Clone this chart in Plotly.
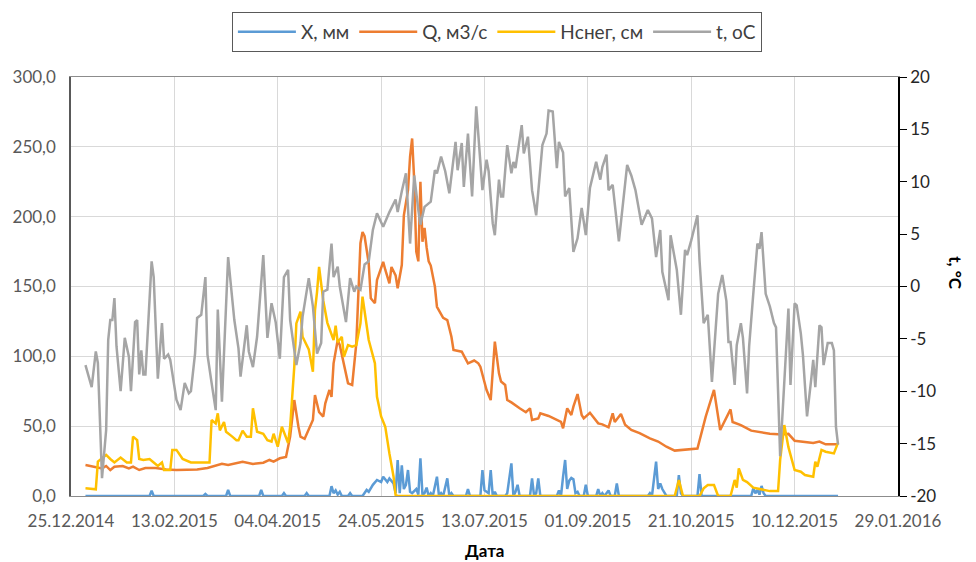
import pandas as pd
import plotly.graph_objects as go

# ---- data: day offsets from 01.01.2015 and values ----
t_days = [0, 3, 5, 6, 8, 10, 11, 12, 13, 14, 15, 17, 19, 21, 22, 24, 25, 26, 27, 28, 29, 32, 33, 35, 37, 38,
          40, 41, 44, 46, 48, 50, 51, 53, 54, 56, 58, 59, 61, 63, 64, 66, 69, 72, 74, 75, 78, 79, 81, 83, 86,
          88, 90, 92, 94, 96, 98, 99, 102, 104, 105, 108, 110, 112, 114, 115, 117, 119, 120, 122, 123, 126,
          128, 130, 131, 133, 135, 137, 139, 141, 144, 147, 150, 151, 153, 155, 157, 159, 161, 162, 164, 167,
          169, 170, 172, 174, 176, 179, 180, 182, 183, 185, 187, 189, 192, 194, 195, 197, 198, 200, 201, 202,
          204, 206, 207, 208, 211, 212, 214, 216, 218, 221, 223, 224, 226, 228, 229, 231, 232, 234, 236, 238,
          240, 242, 244, 247, 249, 250, 252, 253, 255, 258, 262, 264, 266, 269, 272, 274, 276, 278, 279, 282,
          283, 286, 288, 290, 291, 293, 296, 297, 299, 301, 303, 306, 308, 310, 311, 312, 314, 315, 317, 318,
          320, 321, 323, 325, 326, 327, 329, 331, 333, 334, 336, 338, 340, 341, 343, 344, 346, 347, 349, 351,
          352, 353, 355, 356, 357, 359, 361, 362, 363, 364]
t_vals = [-7.5, -9.6, -6.2, -7.3, -18.3, -13.7, -5.1, -3.2, -3.2, -1.1, -5.7, -10.0, -4.9, -6.7, -10.0, -3.4,
          -3.2, -8.4, -6.1, -8.4, -8.4, 2.4, 0.9, -8.8, -3.5, -6.9, -6.5, -7.0, -10.8, -11.8, -9.2, -10.2,
          -10.0, -6.4, -3.0, -2.7, 0.9, -6.5, -9.2, -11.8, -2.2, -11.0, 2.8, -3.2, -5.9, -8.6, -3.7, -6.2,
          -7.7, -4.8, 3.0, -4.9, -1.6, -3.4, -6.9, 0.9, 1.6, -3.2, -7.5, -5.4, -2.9, 0.8, -1.9, -6.4, -5.4,
          -0.5, -0.3, 4.1, 0.9, 1.9, 0.0, -3.4, 0.8, -0.5, 0.0, -0.3, 2.1, 2.4, 5.4, 7.0, 5.7, 7.1, 8.3, 7.1,
          9.1, 10.8, 4.1, 10.6, 7.3, 5.9, 7.6, 8.1, 11.1, 10.8, 12.4, 11.0, 8.9, 13.8, 11.1, 13.7, 9.5, 14.6,
          8.6, 17.2, 9.2, 12.1, 11.0, 6.0, 4.9, 10.2, 8.6, 8.6, 13.5, 10.8, 11.9, 11.3, 15.4, 12.7, 14.3, 9.2,
          6.8, 13.5, 14.6, 16.8, 16.7, 11.3, 13.8, 12.8, 8.6, 9.4, 3.3, 4.6, 7.5, 4.9, 9.4, 11.9, 10.2, 11.4,
          12.6, 9.2, 9.7, 4.3, 11.6, 10.6, 9.2, 5.9, 7.3, 6.5, 2.8, 5.4, 1.4, -1.3, 4.9, 1.6, -2.7, 3.5, 3.0,
          4.4, 6.8, 2.5, -3.5, -2.7, -9.1, -0.7, 1.1, -1.4, -5.3, -5.3, -9.4, -5.6, -3.5, -4.9, -10.2, -5.7,
          -0.7, 4.1, 3.6, 5.2, -0.7, -1.9, -3.5, -3.9, -16.2, -8.9, -2.1, -9.4, -1.6, -1.8, -4.5, -6.5, -12.4,
          -8.9, -7.0, -9.6, -3.7, -3.9, -7.5, -5.4, -5.4, -6.1, -13.4, -15.1]

q_days = [0, 3, 8, 10, 12, 14, 18, 21, 23, 26, 29, 34, 39, 44, 49, 54, 59, 62, 66, 69, 73, 76, 81, 86, 89, 91,
          94, 97, 99, 101, 103, 104, 106, 108, 110, 111, 113, 115, 116, 118, 119, 120, 122, 123, 125, 127,
          129, 131, 133, 134, 135, 137, 138, 140, 141, 143, 144, 145, 147, 148, 150, 151, 153, 154, 156, 157,
          158, 159, 160, 161, 162, 163, 164, 165, 166, 167, 169, 170, 171, 173, 175, 177, 178, 182, 185, 188,
          190, 191, 194, 196, 198, 200, 201, 203, 204, 206, 210, 213, 215, 216, 219, 220, 224, 228, 230, 231,
          233, 235, 236, 238, 240, 241, 244, 248, 250, 253, 255, 256, 259, 261, 264, 268, 273, 277, 281, 285,
          289, 292, 296, 300, 304, 307, 309, 312, 313, 317, 322, 328, 331, 337, 340, 343, 348, 352, 355, 358,
          364]
q_vals = [22.2, 21.5, 19.8, 21.5, 18.6, 21.0, 21.5, 19.8, 21.0, 18.6, 20.0, 20.0, 19.0, 18.6, 19.0, 19.0,
          20.0, 21.5, 23.0, 22.2, 23.8, 24.5, 23.0, 23.8, 25.8, 24.6, 27.0, 28.0, 42.5, 68.7, 49.6, 42.5,
          41.0, 47.3, 54.4, 72.3, 60.0, 56.8, 66.4, 75.9, 71.0, 95.0, 111.7, 108.0, 95.0, 80.7, 79.5, 109.3,
          181.0, 189.0, 186.0, 166.6, 141.5, 138.0, 154.6, 164.2, 167.7, 162.0, 152.3, 164.0, 158.0, 148.7,
          165.4, 201.0, 219.0, 243.0, 256.0, 226.0, 175.0, 168.0, 225.0, 182.0, 192.0, 178.0, 168.0, 165.0,
          150.0, 135.5, 133.0, 127.5, 126.0, 114.0, 104.5, 103.3, 95.0, 97.0, 95.0, 92.6, 75.9, 68.7, 110.5,
          87.8, 82.0, 79.5, 68.7, 67.0, 62.8, 60.0, 62.8, 54.4, 55.6, 59.2, 57.3, 54.4, 53.0, 48.5, 62.8,
          58.0, 64.0, 73.0, 58.0, 55.6, 59.6, 52.0, 51.3, 49.2, 59.2, 53.0, 58.7, 51.0, 47.3, 45.0, 41.3,
          39.0, 35.3, 32.5, 33.0, 33.3, 34.0, 56.8, 75.9, 47.3, 53.0, 62.0, 53.0, 50.8, 46.8, 45.0, 44.5,
          44.0, 44.5, 39.6, 39.0, 38.0, 39.0, 37.0, 37.0]

h_days = [0, 3, 5, 6, 8, 10, 12, 14, 17, 20, 22, 23, 25, 26, 28, 31, 33, 35, 37, 38, 41, 42, 44, 47, 51, 55,
          60, 61, 63, 64, 65, 67, 68, 71, 73, 74, 76, 78, 80, 81, 83, 86, 88, 90, 91, 93, 94, 95, 98, 99, 101,
          102, 104, 105, 108, 110, 111, 112, 113, 115, 117, 120, 121, 122, 124, 125, 127, 129, 131, 133, 134,
          136, 137, 140, 141, 143, 145, 147, 149, 150, 151, 285, 287, 289, 297, 299, 301, 304, 306, 312, 314,
          315, 316, 318, 320, 323, 327, 331, 335, 336, 338, 340, 343, 346, 348, 352, 353, 354, 356, 358, 362,
          364]
h_vals = [5.5, 4.8, 4.8, 24.6, 27.0, 29.4, 26.5, 24.0, 27.5, 24.0, 24.0, 42.5, 40.0, 26.5, 25.8, 26.5, 24.0,
          21.5, 24.0, 18.6, 18.6, 33.0, 33.0, 26.5, 24.0, 24.0, 24.0, 54.4, 52.0, 59.2, 47.0, 53.0, 46.0,
          42.5, 40.0, 40.0, 46.8, 42.5, 42.5, 62.8, 46.0, 44.5, 40.0, 39.0, 44.6, 35.3, 42.0, 49.6, 38.0,
          49.6, 92.6, 123.6, 132.0, 114.0, 105.0, 89.0, 133.0, 146.0, 164.0, 140.0, 124.0, 111.7, 122.0,
          110.0, 114.0, 99.7, 108.0, 107.0, 108.0, 123.6, 142.7, 123.0, 111.7, 95.0, 71.0, 57.0, 49.6, 30.5,
          14.0, 0.7, 0.0, 0.0, 11.5, 0.0, 0.0, 5.5, 7.9, 7.9, 0.0, 0.0, 11.5, 6.0, 19.8, 11.5, 10.0, 6.0, 5.0,
          3.5, 3.5, 25.8, 50.8, 35.0, 18.6, 17.4, 15.0, 13.8, 24.6, 21.0, 33.0, 31.7, 30.5, 38.2]

x_days = [0, 31, 32, 33, 57, 58, 59, 68, 69, 70, 84, 85, 86, 95, 96, 97, 106, 107, 108, 118, 119, 120, 121,
          122, 123, 124, 127, 128, 129, 134, 136, 137, 139, 141, 143, 144, 146, 147, 149, 150, 151, 152, 153,
          154, 155, 156, 157, 158, 160, 161, 162, 163, 164, 165, 166, 167, 168, 170, 171, 172, 173, 175, 176,
          177, 178, 184, 185, 186, 191, 192, 193, 195, 196, 197, 198, 199, 203, 204, 206, 207, 208, 209, 210,
          215, 216, 217, 218, 219, 220, 228, 229, 230, 231, 232, 233, 234, 235, 236, 237, 238, 239, 241, 242,
          243, 247, 248, 249, 250, 251, 253, 254, 256, 257, 258, 272, 273, 274, 275, 276, 277, 278, 279, 280,
          281, 286, 287, 288, 289, 296, 297, 298, 322, 323, 324, 325, 326, 327, 328, 329, 364]
x_vals = [0, 0, 3.8, 0, 0, 1.5, 0, 0, 4.3, 0, 0, 4.3, 0, 0, 2, 0, 0, 2, 0, 0, 7, 2, 4, 1, 3, 0, 0, 2, 0, 0,
          4.3, 3, 8, 11.5, 10, 13.8, 10, 12.6, 9, 2, 25.8, 2, 22, 5, 8, 18.6, 3, 2, 5, 1, 27, 1, 2, 6, 0, 2, 0,
          13.8, 0, 2, 0, 12.6, 0, 2, 0, 0, 5, 0, 0, 18.6, 4, 2, 18.6, 0, 3, 0, 0, 2, 23.4, 0, 3, 8, 0, 0, 12.6,
          0, 2, 12.6, 0, 0, 4, 0, 13.8, 25.8, 5, 11, 13, 12, 2, 3, 0, 0, 8, 0, 0, 5, 0, 2, 0, 4, 0, 0, 9, 0, 0,
          2, 0, 12.6, 24.6, 5, 9, 5, 2, 0, 0, 15, 2, 0, 0, 15.7, 0, 0, 5.5, 2, 4.3, 1, 7.2, 2, 0, 0]

series_names = ["X, мм", "Q, м3/с", "Hснег, см", "t, oC"]
left_ticks = [0, 50, 100, 150, 200, 250, 300]
right_ticks = [-20, -15, -10, -5, 0, 5, 10, 15, 20]
right_labels = ["-20", "-15", "-10", "-5", "0", "5", "10", "15", "20"]

base = pd.Timestamp("2015-01-01")


def to_dates(days):
    return [base + pd.Timedelta(days=d) for d in days]


font = "Lato, 'Open Sans', sans-serif"
fig = go.Figure()
fig.add_trace(go.Scatter(x=to_dates(x_days), y=x_vals, name=series_names[0], mode="lines",
                         line=dict(color="#5B9BD5", width=2.5)))
fig.add_trace(go.Scatter(x=to_dates(q_days), y=q_vals, name=series_names[1], mode="lines",
                         line=dict(color="#ED7D31", width=2.5)))
fig.add_trace(go.Scatter(x=to_dates(h_days), y=h_vals, name=series_names[2], mode="lines",
                         line=dict(color="#FFC000", width=2.5)))
fig.add_trace(go.Scatter(x=to_dates(t_days), y=t_vals, name=series_names[3], mode="lines", yaxis="y2",
                         line=dict(color="#A5A5A5", width=2.5)))

# the page body adds an 8 px offset, so the figure is 8 px smaller on each side
fig.update_layout(
    width=968, height=554,
    margin=dict(l=63, r=78, t=69, b=66, autoexpand=False),
    paper_bgcolor="white", plot_bgcolor="white",
    separators=", ",
    font=dict(family=font, size=16, color="#595959"),
    showlegend=True,
    legend=dict(orientation="h", x=0.515, xanchor="center", xref="paper",
                y=0.993, yanchor="top", yref="container",
                bordercolor="#595959", borderwidth=1, font=dict(size=19, color="#404040"),
                traceorder="normal", itemwidth=58),
    xaxis=dict(type="date", range=["2014-12-25", "2016-01-29"], tick0="2014-12-25",
               dtick=50 * 86400000, tickformat="%d.%m.%Y", showgrid=True, gridcolor="#d9d9d9",
               showline=True, mirror=True, linecolor="#8c8c8c", linewidth=1, ticks="outside", ticklen=10,
               tickcolor="rgba(0,0,0,0)", tickfont=dict(size=17, color="#595959"), zeroline=False,
               automargin=False),
    yaxis=dict(range=[0, 300], tickvals=left_ticks, tickformat=".1f", showgrid=True,
               gridcolor="#d9d9d9", showline=True, linecolor="#595959", linewidth=1.5,
               ticks="outside", ticklen=10, tickcolor="rgba(0,0,0,0)", zeroline=False,
               tickfont=dict(size=17, color="#595959"), automargin=False),
    yaxis2=dict(range=[-20, 20], tickvals=right_ticks, ticktext=right_labels, overlaying="y",
                side="right", showgrid=False, showline=True, linecolor="black", linewidth=1.5,
                ticks="outside", ticklen=7, tickcolor="black", zeroline=False,
                tickfont=dict(size=17, color="#262626"), automargin=False),
    annotations=[
        dict(text="<b>Дата</b>", xref="paper", yref="paper", x=0.5, y=-0.131, showarrow=False,
             xanchor="center", yanchor="middle", font=dict(size=17, color="#000000")),
        dict(text="<b>t, °C</b>", xref="paper", yref="paper", x=1.07, y=0.532, showarrow=False,
             textangle=90, xanchor="center", yanchor="middle", font=dict(size=17, color="#000000")),
    ],
)

fig.write_html("out.html")
